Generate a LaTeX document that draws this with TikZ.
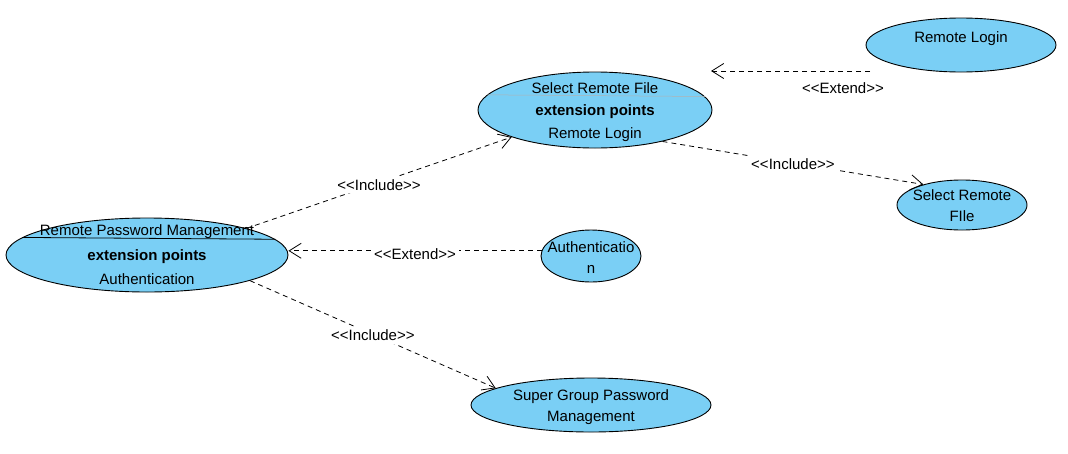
\documentclass[tikz,border=0pt]{standalone}
\usepackage{fontspec}
\setmainfont{Liberation Sans}
\usetikzlibrary{shapes.geometric,arrows.meta}
\definecolor{ucblue}{RGB}{122,207,245}
\newcommand{\stereotype}[1]{<\kern0pt<#1>\kern0pt>}

\begin{document}
\begin{tikzpicture}[x=1pt,y=-1pt]
\tikzstyle{usecase}=[ellipse,draw=black,fill=ucblue,line width=0.9pt,inner sep=0pt]
\tikzstyle{txt}=[inner sep=0pt,align=center,font=\fontsize{15}{21}\selectfont]
\tikzstyle{dep}=[dash pattern=on 5pt off 4pt,line width=0.8pt,-{Straight Barb[length=12pt,width=15pt]}]
\tikzstyle{stereo}=[fill=white,inner sep=3pt,font=\fontsize{15}{17}\selectfont]
\useasboundingbox (0,0) rectangle (1068,453);
\foreach \name/\point/\w/\h in {
	rpm/{147,255}/282/74,
	srf/{595,110}/234/76,
	rl/{961,45}/190/54,
	srfb/{962,205}/130/50,
	auth/{591,256}/100/52,
	sgpm/{591,405}/240/54}
	\node[usecase,minimum width=\w pt,minimum height=\h pt] (\name) at (\point) {};
% compartments
\draw[line width=0.8pt] (rpm.172.3) -- (rpm.7.7);
\draw[gray!60,line width=0.5pt] (srf.172.1) -- (srf.7.9);
% texts
\node[txt] (rpmname) at (147,232) {Remote Password Management};
\node[txt] (rpmext) at (147,257) {\bfseries extension points};
\node[txt] (rpmpt) at (147,279) {Authentication};
\node[txt] (srfname) at (595,88) {Select Remote File};
\node[txt] (srfext) at (595,112) {\bfseries extension points};
\node[txt] (srfpt) at (595,135) {Remote Login};
\node[txt] (rlname) at (961,39) {Remote Login};
\node[txt] (srfbname) at (962,206) {Select Remote\\FIle};
\node[txt] (authname) at (591,258) {Authenticatio\\n};
\node[txt] (sgpmname) at (591,407) {Super Group Password\\Management};
% relations
\coordinate (rlend) at (870,71);
\coordinate (srftip) at (711,71);
\draw[dep] (rpm.15) -- (srf.198) node[stereo,midway,yshift=-2pt] (inc1) {\stereotype{Include}};
\draw[dep] (auth.174) -- (auth.174 -| rpm.east) node[stereo,midway,yshift=-3pt] (ext1) {\stereotype{Extend}};
\draw[dep] (rpm.-14) -- (sgpm.170) node[stereo,midway,yshift=-1pt] (inc2) {\stereotype{Include}};
\draw[dep] (srf.-25) -- (srfb.152) node[stereo,midway,yshift=-1pt] (inc3) {\stereotype{Include}};
\draw[dep] (rlend) -- (srftip) node[stereo,pos=0.17,yshift=-17pt,fill=none] (ext2) {\stereotype{Extend}};
\end{tikzpicture}
\end{document}
